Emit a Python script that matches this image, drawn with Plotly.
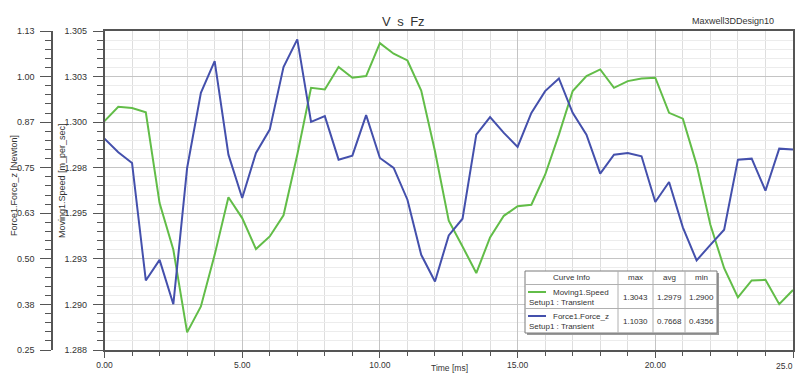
import plotly.graph_objects as go

# ---------------- data ----------------
time_ms = [0.0, 0.5, 1.0, 1.5, 2.0, 2.5, 3.0, 3.5, 4.0, 4.5,
           5.0, 5.5, 6.0, 6.5, 7.0, 7.5, 8.0, 8.5, 9.0, 9.5,
           10.0, 10.5, 11.0, 11.5, 12.0, 12.5, 13.0, 13.5, 14.0, 14.5,
           15.0, 15.5, 16.0, 16.5, 17.0, 17.5, 18.0, 18.5, 19.0, 19.5,
           20.0, 20.5, 21.0, 21.5, 22.0, 22.5, 23.0, 23.5, 24.0, 24.5, 25.0]

speed = [1.30020, 1.30096, 1.30090, 1.30067, 1.29583, 1.29334, 1.28894, 1.29032, 1.29307, 1.29614,
         1.29503, 1.29338, 1.29405, 1.29518, 1.29841, 1.30197, 1.30188, 1.30308, 1.30251, 1.30260,
         1.30435, 1.30379, 1.30343, 1.30183, 1.29859, 1.29489, 1.29352, 1.29210, 1.29400, 1.29515,
         1.29566, 1.29574, 1.29734, 1.29948, 1.30180, 1.30260, 1.30295, 1.30197, 1.30233, 1.30247,
         1.30251, 1.30064, 1.30033, 1.29788, 1.29467, 1.29236, 1.29080, 1.29171, 1.29174, 1.29044,
         1.29120]

force = [0.8332, 0.7956, 0.7660, 0.4418, 0.4987, 0.3763, 0.7522, 0.9595, 1.0471, 0.7889,
         0.6693, 0.7936, 0.8580, 1.0305, 1.1068, 0.8793, 0.8951, 0.7751, 0.7862, 0.8978,
         0.7798, 0.7522, 0.6646, 0.5126, 0.4390, 0.5662, 0.6121, 0.8442, 0.8923, 0.8489,
         0.8102, 0.9042, 0.9642, 0.9990, 0.9042, 0.8442, 0.7364, 0.7889, 0.7936, 0.7845,
         0.6582, 0.7135, 0.5883, 0.4971, 0.5402, 0.5817, 0.7751, 0.7779, 0.6894, 0.8055,
         0.8028]

x_ticks = [0, 5, 10, 15, 20, 25]
x_ticktext = ["0.00", "5.00", "10.00", "15.00", "20.00", ""]
x_last_label = "25.0"

speed_range = [1.288, 1.305]
speed_ticktext = ["1.288", "1.290", "1.293", "1.295", "1.298", "1.300", "1.303", "1.305"]
force_range = [0.25, 1.13]
force_ticktext = ["0.25", "0.38", "0.50", "0.63", "0.75", "0.87", "1.00", "1.13"]

table_header = ["Curve Info", "max", "avg", "min"]
table_names = [["Moving1.Speed", "Setup1 : Transient"], ["Force1.Force_z", "Setup1 : Transient"]]
table_values = [["1.3043", "1.2979", "1.2900"], ["1.1030", "0.7668", "0.4356"]]

# ---------------- styling / layout ----------------
W, H = 796, 374
ML, MR, MT, MB = 0, 3, 31, 24
PW = W - ML - MR
PH = H - MT - MB
GREEN = "#62bd48"
BLUE = "#4450ac"
FONT = "Arial, Liberation Sans, sans-serif"
TXT = "#333333"


def fx(x):
    return (x - ML) / PW


def fy(y):
    return (H - MB - y) / PH


n = len(speed_ticktext) - 1
speed_ticks = [speed_range[0] + k * (speed_range[1] - speed_range[0]) / n for k in range(n + 1)]
force_ticks = [force_range[0] + k * (force_range[1] - force_range[0]) / n for k in range(n + 1)]

fig = go.Figure()
fig.add_trace(go.Scatter(x=time_ms, y=speed, mode="lines", yaxis="y",
                         line=dict(color=GREEN, width=2), showlegend=False))
fig.add_trace(go.Scatter(x=time_ms, y=force, mode="lines", yaxis="y2",
                         line=dict(color=BLUE, width=2), showlegend=False))

x0 = fx(104.5)
fig.update_layout(
    width=W, height=H,
    margin=dict(l=ML, r=MR, t=MT, b=MB, pad=0),
    paper_bgcolor="white", plot_bgcolor="white",
    font=dict(family=FONT, size=9, color=TXT),
    xaxis=dict(domain=[x0, 1], range=[0, 25], tickvals=x_ticks, ticktext=x_ticktext,
               showline=True, linecolor="#555555", linewidth=1.5, mirror=True,
               ticks="outside", ticklen=6, tickcolor="#555555",
               showgrid=True, gridcolor="#c4c4c4", gridwidth=1,
               minor=dict(dtick=1, tick0=0, ticks="outside", ticklen=4, tickcolor="#555555",
                          showgrid=True, gridcolor="#dedede"),
               tickfont=dict(size=8.5, color=TXT), zeroline=False, automargin=False),
    yaxis=dict(range=speed_range, tickvals=speed_ticks, ticktext=speed_ticktext,
               showline=True, linecolor="#555555", linewidth=1.5, mirror=True,
               ticks="outside", ticklen=10, tickcolor="#555555",
               showgrid=True, gridcolor="#c4c4c4", gridwidth=1,
               minor=dict(tick0=speed_range[0], dtick=(speed_range[1] - speed_range[0]) / (n * 5),
                          ticks="outside", ticklen=6, tickcolor="#555555",
                          showgrid=True, gridcolor="#ececec"),
               ticklabelstandoff=4,
               tickfont=dict(size=9, color=TXT), zeroline=False, automargin=False),
    yaxis2=dict(range=force_range, tickvals=force_ticks, ticktext=force_ticktext,
                overlaying="y", side="left", anchor="free", position=fx(52),
                showline=True, linecolor="#555555", linewidth=1.5,
                ticks="outside", ticklen=11, tickcolor="#555555",
                showgrid=False,
                minor=dict(tick0=force_range[0], dtick=(force_range[1] - force_range[0]) / (n * 5),
                           ticks="outside", ticklen=6, tickcolor="#555555", showgrid=False),
                ticklabelstandoff=4,
                tickfont=dict(size=9, color=TXT), zeroline=False, automargin=False),
)

ann = []
ann.append(dict(text="V\u2002s\u2002Fz", x=fx(403), y=fy(21), xref="paper", yref="paper",
                showarrow=False, font=dict(size=13, color=TXT), xanchor="center", yanchor="middle"))
ann.append(dict(text="Maxwell3DDesign10", x=fx(733), y=fy(21), xref="paper", yref="paper",
                showarrow=False, font=dict(size=9, color=TXT), xanchor="center", yanchor="middle"))
ann.append(dict(text="Time [ms]", x=fx(449), y=fy(368), xref="paper", yref="paper",
                showarrow=False, font=dict(size=8.5, color=TXT), xanchor="center", yanchor="middle"))
ann.append(dict(text=x_last_label, x=fx(795), y=fy(365.5), xref="paper", yref="paper",
                showarrow=False, font=dict(size=8.5, color=TXT), xanchor="right", yanchor="middle"))
ann.append(dict(text="Force1.Force_z [Newton]", x=fx(14), y=fy(186), xref="paper", yref="paper",
                textangle=-90, showarrow=False, font=dict(size=9, color=TXT),
                xanchor="center", yanchor="middle"))
ann.append(dict(text="Moving1.Speed [m_per_sec]", x=fx(62), y=fy(181), xref="paper", yref="paper",
                textangle=-90, showarrow=False, font=dict(size=9, color=TXT),
                xanchor="center", yanchor="middle"))

# ---------------- curve info table ----------------
tx0, tx1, ty0, ty1 = 525, 717, 271, 333
col_edges = [tx0, 618, 653, 685, tx1]
row_edges = [ty0, 284.5, 308.5, ty1]
shapes = []
shapes.append(dict(type="rect", xref="paper", yref="paper",
                   x0=fx(tx0 + 2), x1=fx(tx1 + 2), y0=fy(ty1 + 2), y1=fy(ty0 + 2),
                   line=dict(width=0), fillcolor="#9a9a9a", layer="above"))
shapes.append(dict(type="rect", xref="paper", yref="paper",
                   x0=fx(tx0), x1=fx(tx1), y0=fy(ty1), y1=fy(ty0),
                   line=dict(color="#7a7a7a", width=1), fillcolor="white", layer="above"))
for cx in col_edges[1:-1]:
    shapes.append(dict(type="line", xref="paper", yref="paper", x0=fx(cx), x1=fx(cx),
                       y0=fy(ty1), y1=fy(ty0), line=dict(color="#b0b0b0", width=1), layer="above"))
for ry in row_edges[1:-1]:
    shapes.append(dict(type="line", xref="paper", yref="paper", x0=fx(tx0), x1=fx(tx1),
                       y0=fy(ry), y1=fy(ry), line=dict(color="#b0b0b0", width=1), layer="above"))

hy = (row_edges[0] + row_edges[1]) / 2
for i, h in enumerate(table_header):
    cx = (col_edges[i] + col_edges[i + 1]) / 2
    ann.append(dict(text=h, x=fx(cx), y=fy(hy), xref="paper", yref="paper", showarrow=False,
                    font=dict(size=8, color=TXT), xanchor="center", yanchor="middle"))

colors = [GREEN, BLUE]
for r in range(2):
    top, bot = row_edges[r + 1], row_edges[r + 2]
    ly = top + 7.5
    shapes.append(dict(type="line", xref="paper", yref="paper", x0=fx(528), x1=fx(546),
                       y0=fy(ly), y1=fy(ly), line=dict(color=colors[r], width=2), layer="above"))
    ann.append(dict(text=table_names[r][0], x=fx(551), y=fy(ly), xref="paper", yref="paper",
                    showarrow=False, font=dict(size=8, color=TXT), xanchor="left", yanchor="middle"))
    ann.append(dict(text=table_names[r][1], x=fx(527), y=fy(ly + 10), xref="paper", yref="paper",
                    showarrow=False, font=dict(size=8, color=TXT), xanchor="left", yanchor="middle"))
    vy = (top + bot) / 2 + 1
    for c in range(3):
        cx = (col_edges[c + 1] + col_edges[c + 2]) / 2
        ann.append(dict(text=table_values[r][c], x=fx(cx), y=fy(vy), xref="paper", yref="paper",
                        showarrow=False, font=dict(size=8, color=TXT),
                        xanchor="center", yanchor="middle"))

fig.update_layout(annotations=ann, shapes=shapes)
fig.write_html("out.html", config={"displayModeBar": False},
               post_script="document.body.style.margin='0px';document.body.style.overflow='hidden';")
